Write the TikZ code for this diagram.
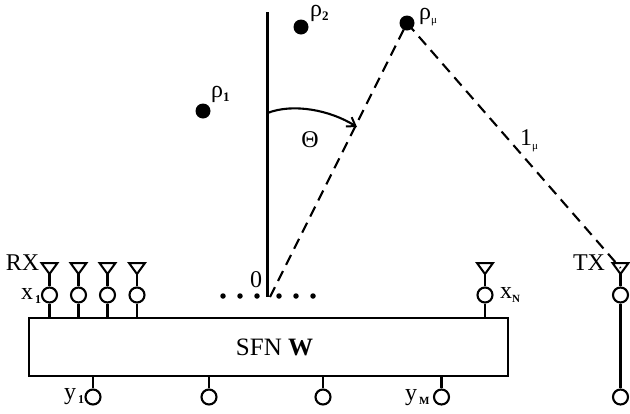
\documentclass[tikz,border=0pt]{standalone}
\usepackage{fontspec}
\setmainfont{Liberation Serif}
\usetikzlibrary{arrows.meta}
\tikzset{
  port/.style={circle,draw,line width=2.1pt,minimum size=15pt,inner sep=0pt,fill=white},
  scatterer/.style={circle,fill=black,minimum size=15pt,inner sep=0pt},
  tinydot/.style={circle,fill=black,minimum size=5.5pt,inner sep=0pt},
  wire/.style={line width=2.1pt},
  path wave/.style={line width=2.1pt,dash pattern=on 11pt off 7pt},
  lbl/.style={inner sep=0pt,font=\fontsize{24}{24}\selectfont},
  antenna/.style={line width=2pt,line join=miter}
}
\newcommand{\antennaat}[2]{%
  \coordinate (#1a) at (#2,274);
  \draw[antenna] (#2-8,263) -- (#2+8,263) -- (#1a) -- cycle;
  \node[port] (#1p) at (#2,295) {};
  \draw[wire] (#1a) -- (#1p);
}
\newcommand{\sbs}[3]{\kern#3pt\raisebox{-4pt}{\fontsize{#1}{#1}\selectfont #2}}
\begin{document}
\begin{tikzpicture}[x=1pt,y=-1pt]
\useasboundingbox (0,0) rectangle (630,413);
\node[draw,line width=2.1pt,minimum width=479pt,minimum height=58pt,inner sep=0pt,anchor=north west,font=\fontsize{25}{25}\selectfont] (sfn) at (28,317) {\kern12pt SFN \textbf{W}};
\antennaat{r1}{49.5}
\antennaat{r2}{78.5}
\antennaat{r3}{107.5}
\antennaat{r4}{137}
\antennaat{rn}{485}
\antennaat{tx}{620.5}
\foreach \n in {r1,r2,r3,r4,rn}{\draw[wire] (\n p) -- (\n p |- sfn.north);}
\foreach \n/\x in {y1/93,y2/209,y3/323,ym/441.5}{
  \node[port] (\n) at (\x,397) {};
  \draw[wire] (\n |- sfn.south) -- (\n);
}
\node[port] (txb) at (620.5,397) {};
\draw[wire] (txp) -- (txb);
% scatterers
\node[scatterer] (s1) at (203,111) {};
\node[scatterer] (s2) at (301,27) {};
\node[scatterer] (sm) at (407,23) {};
% axis
\coordinate (top) at (267.5,12);
\coordinate (org) at (267.5,297);
\draw[wire] (top) -- (org);
\coordinate (dst) at (270,297);
\draw[path wave] (dst) -- (sm.center);
\draw[path wave] (sm.center) -- (txa |- 0,268);
% dots
\foreach \n/\x in {d1/223,d2/240,d3/257,d4/279,d5/296,d6/313}{\node[tinydot] (\n) at (\x,296) {};}
% arc
\coordinate (a0) at (267.5,113);
\coordinate (a1) at (357,127);
\draw[wire,-{Straight Barb[length=8pt,width=11pt,line width=2pt]}] (a0) .. controls (293,103) and (330,110) .. (a1);
% labels
\node[lbl] (lt) at (310,140) {Θ};
\node[lbl] (l0) at (256,279.5) {0};
\node[lbl] (lrx) at (22.5,263) {RX};
\node[lbl] (ltx) at (589,263) {TX};
\node[lbl,anchor=base west] (lr1) at (211,97) {ρ\sbs{13}{\textbf{1}}{0}};
\node[lbl,anchor=base west] (lr2) at (310,16) {ρ\sbs{13}{\textbf{2}}{0}};
\node[lbl,anchor=base west] (lrm) at (419,19) {ρ\sbs{11}{μ}{0}};
\node[lbl,anchor=base west] (l1m) at (520,145) {1\sbs{11}{μ}{0}};
\node[lbl,anchor=base west] (lx1) at (21,299) {x\sbs{12}{\textbf{1}}{2}};
\node[lbl,anchor=base west] (lxn) at (500,298) {x\sbs{11}{\textbf{N}}{0}};
\node[lbl,anchor=base west] (ly1) at (64,399) {y\sbs{12}{\textbf{1}}{2}};
\node[lbl,anchor=base west] (lym) at (405,400) {y\sbs{11}{\textbf{M}}{2}};
\end{tikzpicture}
\end{document}
